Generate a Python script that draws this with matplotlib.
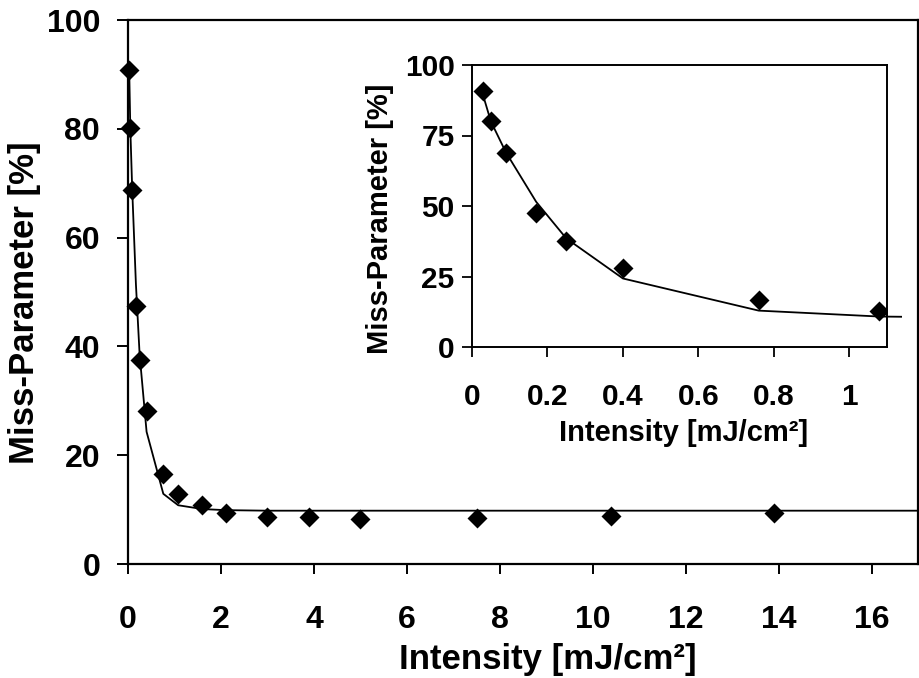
import matplotlib
matplotlib.use("Agg")
import matplotlib.pyplot as plt
from matplotlib.transforms import Bbox, TransformedBbox

plt.rcParams['font.family'] = ['Liberation Sans', 'DejaVu Sans']
plt.rcParams['font.weight'] = 'bold'

# measured data
intensity = [0.03, 0.05, 0.09, 0.17, 0.25, 0.40, 0.76, 1.08, 1.6, 2.1, 3.0, 3.9, 5.0, 7.5, 10.4, 13.9]
miss = [90.8, 80.2, 68.8, 47.4, 37.5, 28.1, 16.5, 12.8, 10.9, 9.3, 8.7, 8.6, 8.3, 8.5, 8.9, 9.3]

# fitted curve
fit_x = [0.03, 0.05, 0.09, 0.17, 0.25, 0.40, 0.76, 1.08, 1.6, 2.1, 3.0, 17.0]
fit_y = [89.0, 80.0, 69.0, 51.5, 38.5, 24.3, 12.9, 10.8, 10.1, 9.9, 9.8, 9.8]

main_xticks = [0, 2, 4, 6, 8, 10, 12, 14, 16]
main_yticks = [0, 20, 40, 60, 80, 100]
inset_xticks = [0, 0.2, 0.4, 0.6, 0.8, 1.0]
inset_xlabels = ['0', '0.2', '0.4', '0.6', '0.8', '1']
inset_yticks = [0, 25, 50, 75, 100]

xlabel = 'Intensity [mJ/cm²]'
ylabel = 'Miss-Parameter [%]'

W, H = 919, 678
fig = plt.figure(figsize=(W / 100, H / 100), dpi=100)

def frac(l, t, r, b):
    return [l / W, 1 - b / H, (r - l) / W, (b - t) / H]

ax = fig.add_axes(frac(128, 20, 918, 564))
ax.plot(fit_x, fit_y, color='black', lw=1.3, zorder=2)
ax.plot(intensity, miss, linestyle='none', marker='D', ms=10, mec='none',
        color='black', zorder=3, clip_on=False)
ax.set_xlim(0, 17)
ax.set_ylim(0, 100)
ax.set_xticks(main_xticks)
ax.set_yticks(main_yticks)
for s in ax.spines.values():
    s.set_linewidth(1.6)
ax.tick_params(axis='x', direction='out', length=7.5, width=1.4, pad=22, labelsize=23)
ax.tick_params(axis='y', direction='out', length=8, width=1.4, pad=12, labelsize=23)
ax.set_xlabel(xlabel, fontsize=25, fontweight='bold', labelpad=6)
ax.set_ylabel(ylabel, fontsize=25, fontweight='bold', labelpad=4)
ax.xaxis.label.set_x(0.532)
ax.yaxis.label.set_y(0.48)

ax2 = fig.add_axes(frac(472, 65, 887, 347))
ax2.set_facecolor('white')
line, = ax2.plot(fit_x, fit_y, color='black', lw=1.3, zorder=2)
line.set_clip_box(TransformedBbox(Bbox([[0, 0], [1.035, 1]]), ax2.transAxes))
ax2.plot(intensity, miss, linestyle='none', marker='D', ms=10, mec='none',
         color='black', zorder=3)
ax2.set_xlim(0, 1.1)
ax2.set_ylim(0, 100)
ax2.set_xticks(inset_xticks)
ax2.set_xticklabels(inset_xlabels)
ax2.set_yticks(inset_yticks)
for s in ax2.spines.values():
    s.set_linewidth(1.4)
ax2.tick_params(axis='x', direction='out', length=7, width=1.3, pad=19, labelsize=21.5)
ax2.tick_params(axis='y', direction='out', length=7.5, width=1.3, pad=5, labelsize=21.5)
ax2.set_xlabel(xlabel, fontsize=21, fontweight='bold', labelpad=6)
ax2.set_ylabel(ylabel, fontsize=21, fontweight='bold', labelpad=8)
ax2.xaxis.label.set_x(0.51)
ax2.yaxis.label.set_y(0.455)

fig.savefig('out.png', dpi=100)
